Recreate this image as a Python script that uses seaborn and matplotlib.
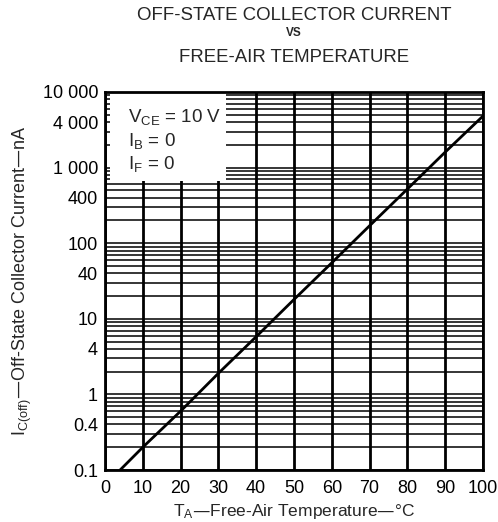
import matplotlib
matplotlib.use("Agg")
import matplotlib.pyplot as plt
from matplotlib.ticker import LogLocator, FixedLocator, NullFormatter
from matplotlib.patches import Rectangle
import seaborn as sns
import pandas as pd

# ---- data ----
temp_c = [4, 10, 20, 30, 40, 50, 60, 70, 80, 90, 100]
current_na = [0.1, 0.2, 0.6, 1.9, 5.8, 18, 55, 170, 520, 1600, 4800]
y_ticks = [0.1, 0.4, 1, 4, 10, 40, 100, 400, 1000, 4000, 10000]
y_tick_labels = ["0.1", "0.4", "1", "4", "10", "40", "100", "400",
                 "1 000", "4 000", "10 000"]
x_ticks = [0, 10, 20, 30, 40, 50, 60, 70, 80, 90, 100]
conditions = [r"V$_{CE}$ = 10 V", r"I$_{B}$ = 0", r"I$_{F}$ = 0"]

df = pd.DataFrame({"temp": temp_c, "current": current_na})

sns.set_style("white")
plt.rcParams['font.family'] = ['Liberation Sans', 'DejaVu Sans']
plt.rcParams['mathtext.default'] = 'regular'

fig = plt.figure(figsize=(4.98, 5.22), dpi=100)
ax = fig.add_axes([0.2108, 0.0996, 0.7590, 0.7242])

ax.set_axisbelow(True)
sns.lineplot(data=df, x="temp", y="current", color="black",
             linewidth=2, ax=ax, zorder=3)

ax.set_yscale("log")
ax.set_xlim(0, 100)
ax.set_ylim(0.1, 10000)

ax.yaxis.set_major_locator(FixedLocator(y_ticks))
ax.set_yticklabels(y_tick_labels)
ax.yaxis.set_minor_locator(LogLocator(base=10, subs=range(2, 10)))
ax.yaxis.set_minor_formatter(NullFormatter())
ax.set_xticks(x_ticks)

ax.grid(which="both", axis="y", color="black", linewidth=1.1)
ax.grid(which="major", axis="x", color="black", linewidth=2)
ax.tick_params(axis="both", which="both", length=0, labelsize=13,
               colors="black")
ax.tick_params(axis="x", pad=7)
ax.tick_params(axis="y", pad=5)

for s in ax.spines.values():
    s.set_color("black")
    s.set_linewidth(2)

# white condition box in top-left corner
ax.add_patch(Rectangle((0.014, 0.765), 0.305, 0.231, transform=ax.transAxes,
                       facecolor="white", edgecolor="none", zorder=2))
for i, txt in enumerate(conditions):
    ax.text(0.06, 0.96 - i * 0.062, txt, transform=ax.transAxes,
            fontsize=13.5, va="top", ha="left", zorder=4)

ax.set_xlabel(r"T$_{A}$—Free-Air Temperature—°C", fontsize=12.5, labelpad=4)
ax.set_ylabel(r"I$_{C(off)}$—Off-State Collector Current—nA",
              fontsize=13, labelpad=6)

fig.text(0.59, 0.971, "OFF-STATE COLLECTOR CURRENT", ha="center",
         va="center", fontsize=13.4)
fig.text(0.59, 0.937, "VS", ha="center", va="center", fontsize=8.5,
         fontweight="bold")
fig.text(0.59, 0.889, "FREE-AIR TEMPERATURE", ha="center",
         va="center", fontsize=13.4)

fig.savefig("out.png", dpi=100)
